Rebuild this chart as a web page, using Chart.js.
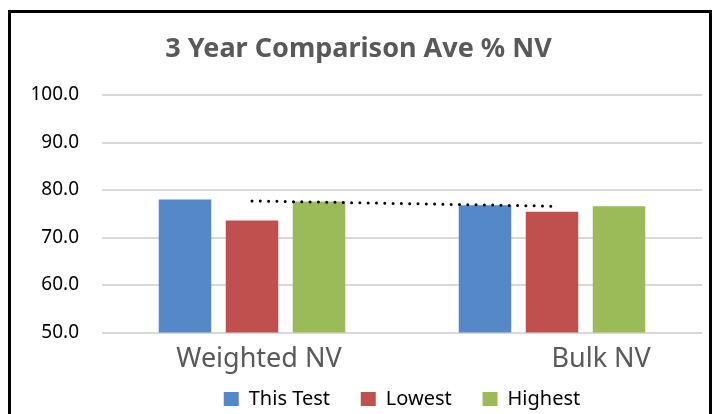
<!DOCTYPE html>
<html lang="en">
<head>
  <meta charset="UTF-8" />
  <title>3 Year Comparison Ave % NV</title>
  <script src="https://cdn.jsdelivr.net/npm/chart.js"></script>
  <style>
    html, body { margin: 0; padding: 0; background: #fff; overflow: hidden; width: 715px; height: 414px; }
    #chart { position: absolute; left: 0; top: 0; }
    #frame {
      position: absolute; left: 8px; top: 10px; width: 704px; height: 430px;
      border: 3px solid #000; box-sizing: border-box; pointer-events: none;
    }
  </style>
</head>
<body>
  <canvas id="chart" width="715" height="419"></canvas>
  <div id="frame"></div>

  <script>
    const categories = ['Weighted NV', 'Bulk NV'];
    const thisTest = [78.0, 76.8];
    const lowest = [73.6, 75.4];
    const highest = [77.6, 76.6];
    const trendValues = [77.7, 76.6];   // dotted trendline
    const yTicks = [50, 60, 70, 80, 90, 100];

    const font = "'Noto Sans', 'Open Sans', sans-serif";

    const ctx = document.getElementById('chart').getContext('2d');

    new Chart(ctx, {
      type: 'bar',
      data: {
        labels: categories,
        datasets: [
          { label: 'This Test', data: thisTest, backgroundColor: '#5588C8', order: 1,
            categoryPercentage: 0.67, barPercentage: 0.784 },
          { label: 'Lowest', data: lowest, backgroundColor: '#C0504D', order: 1,
            categoryPercentage: 0.67, barPercentage: 0.784 },
          { label: 'Highest', data: highest, backgroundColor: '#9BBB59', order: 1,
            categoryPercentage: 0.67, barPercentage: 0.784 },
          { type: 'line', label: 'Trend', data: trendValues, order: 0,
            borderColor: '#000', borderWidth: 3, borderDash: [0, 8.3],
            borderCapStyle: 'round', pointRadius: 0, fill: false, tension: 0 }
        ]
      },
      options: {
        responsive: false,
        animation: false,
        layout: { padding: { left: 15, right: 13, top: 0, bottom: 0 } },
        plugins: {
          title: {
            display: true,
            text: '3 Year Comparison Ave % NV',
            color: '#595959',
            font: { family: font, size: 27, weight: 'bold' },
            padding: { top: 33, bottom: 29.6 }
          },
          legend: {
            position: 'bottom',
            fullSize: false,
            labels: {
              color: '#000',
              font: { family: font, size: 20 },
              boxWidth: 15,
              boxHeight: 14,
              padding: 10,
              filter: item => item.datasetIndex < 3,
              // widen the gap after the first two entries
              generateLabels: chart => Chart.defaults.plugins.legend.labels.generateLabels(chart)
                .map(item => Object.assign(item, {
                  text: item.text + (item.datasetIndex < 2 ? '\u00a0'.repeat(4) : '')
                }))
            }
          },
          tooltip: { enabled: false }
        },
        scales: {
          x: {
            grid: { display: false, drawTicks: false },
            border: { display: false },
            ticks: {
              color: '#595959',
              font: { family: font, size: 27 },
              padding: 11,
              labelOffset: 7,
              callback: (v, i) => (i === 1 ? '\u00a0'.repeat(12) : '') + categories[i]
            },
            afterFit: s => { s.height = 46.5; }
          },
          y: {
            min: 50,
            max: 100,
            afterBuildTicks: s => { s.ticks = yTicks.map(v => ({ value: v })); },
            grid: { color: '#D9D9D9', lineWidth: 2, drawTicks: false },
            border: { display: false },
            ticks: {
              color: '#000',
              font: { family: font, size: 19 },
              padding: 23,
              callback: v => v.toFixed(1)
            },
            afterFit: s => { s.width = 87; }
          }
        }
      }
    });
  </script>
</body>
</html>
